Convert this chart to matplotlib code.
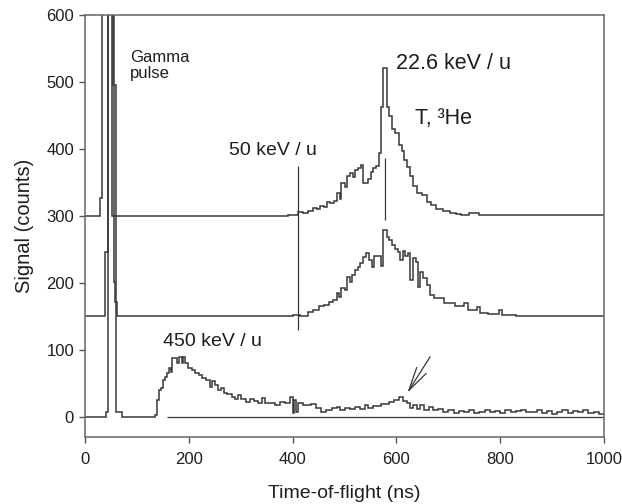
import numpy as np
import matplotlib
matplotlib.use("Agg")
from matplotlib import pyplot as plt

plt.rcParams['font.family'] = ['Liberation Sans', 'DejaVu Sans']

# trace offsets (counts)
offsets = [300, 150, 0]

# top trace: 22.6 keV/u  (step edges in ns, counts above its offset)
top_edges = [0, 29, 33, 51, 390, 400, 410, 420, 430, 440, 447, 453, 460, 466, 472,
             479, 485, 491, 494, 500, 505, 511, 516, 520, 526, 532, 536, 545, 550,
             555, 560, 566, 571, 575, 581, 586, 592, 597, 604, 610, 615, 620, 626,
             632, 640, 650, 658, 666, 676, 690, 703, 715, 725, 740, 760, 790, 800,
             850, 860, 920, 930, 1000]
top_counts = [0, 27, 900, 0, 1, 2, 6, 5, 8, 12, 10, 15, 13, 21, 20,
              22, 34, 25, 49, 44, 59, 64, 58, 69, 72, 76, 49, 55, 66,
              72, 74, 94, 163, 221, 163, 149, 130, 124, 106, 97, 84, 73, 60,
              45, 35, 31, 21, 17, 10, 7, 4, 3, 2, 4, 1, 2, 1,
              2, 1, 2, 1]

# middle trace: 50 keV/u
mid_edges = [0, 38, 43, 55, 58, 62, 390, 400, 415, 430, 440, 450, 460, 470, 478,
             485, 490, 494, 500, 505, 510, 515, 520, 526, 530, 536, 542, 548, 552,
             557, 565, 570, 575, 582, 586, 591, 597, 603, 607, 612, 617, 622, 626,
             632, 637, 641, 646, 652, 658, 664, 672, 692, 712, 730, 738, 755, 762,
             776, 798, 804, 830, 1000]
mid_counts = [0, 96, 900, 52, 22, 0, 1, 2, 1, 6, 9, 15, 17, 22,
              25, 35, 29, 43, 40, 59, 52, 62, 69, 74, 80, 89, 95, 84,
              74, 90, 90, 76, 129, 119, 114, 106, 100, 96, 84, 98, 90, 95,
              54, 88, 82, 44, 66, 58, 47, 32, 27, 20, 16, 20, 9, 14,
              5, 4, 10, 2, 1]

# bottom trace: 450 keV/u
bot_edges = [0, 40, 44, 54, 60, 70, 134, 138, 142, 146, 150, 154, 157, 162, 165,
             168, 177, 181, 186, 189, 193, 199, 205, 211, 220, 226, 233, 240, 245,
             250, 256, 262, 268, 274, 282, 288, 294, 300, 310, 318, 326, 334, 340,
             346, 355, 365, 375, 385, 395, 400, 403, 406, 410, 420, 435, 445, 455,
             465, 475, 485, 492, 500, 510, 520, 530, 540, 545, 555, 570, 585, 595,
             605, 612, 620, 626, 632, 640, 646, 654, 662, 670, 680, 690, 700, 710,
             720, 730, 740, 750, 760, 770, 780, 790, 800, 810, 820, 830, 840, 850,
             860, 870, 880, 890, 900, 910, 920, 930, 940, 950, 960, 970, 980, 990,
             1000]
bot_counts = [0, 8, 1000, 496, 8, 0, 3, 25, 40, 43, 55, 60, 65, 73,
              67, 88, 80, 90, 80, 89, 80, 73, 70, 65, 62, 58, 55, 45,
              53, 47, 40, 43, 35, 34, 30, 27, 33, 27, 22, 27, 24, 20,
              28, 21, 20, 18, 22, 20, 30, 6, 25, 8, 20, 17, 19, 14,
              8, 10, 13, 15, 11, 14, 12, 15, 12, 18, 14, 16, 19, 22,
              25, 30, 24, 20, 14, 18, 12, 17, 11, 15, 10, 12, 7, 10,
              6, 9, 7, 10, 6, 8, 11, 7, 9, 6, 10, 7, 9, 11,
              7, 8, 10, 6, 9, 5, 8, 11, 6, 9, 7, 10, 6, 8,
              5]

# marker lines (ns, count range)
marker_50_x, marker_50_y = 411, (130, 375)
marker_22_x, marker_22_y = 578, (294, 386)
ref_line_x, ref_line_y = (157, 1000), 0

line_col = '#383838'

fig = plt.figure(figsize=(6.22, 5.04), dpi=100)
ax = fig.add_axes([0.137, 0.133, 0.834, 0.837])

traces = [(top_edges, top_counts), (mid_edges, mid_counts), (bot_edges, bot_counts)]
for (edges, counts), off in zip(traces, offsets):
    ax.stairs(np.array(counts) + off, edges, baseline=None, color=line_col, lw=1.1)

ax.vlines(marker_50_x, *marker_50_y, color=line_col, lw=0.9)
ax.vlines(marker_22_x, *marker_22_y, color=line_col, lw=0.9)
ax.hlines(ref_line_y, *ref_line_x, color=line_col, lw=0.9)

ax.annotate('', xy=(621, 36), xytext=(665, 90),
            arrowprops=dict(arrowstyle='->,head_length=1.7,head_width=0.4',
                            color=line_col, lw=0.9, shrinkA=0, shrinkB=0))

txt = '#1e1e1e'
ax.text(86, 548, 'Gamma\npulse', fontsize=12, va='top', ha='left', color=txt, linespacing=1.05)
ax.text(600, 528, '22.6 keV / u', fontsize=15.5, va='center', ha='left', color=txt)
ax.text(636, 446, 'T, ³He', fontsize=15.5, va='center', ha='left', color=txt)
ax.text(277, 398, '50 keV / u', fontsize=14, va='center', ha='left', color=txt)
ax.text(149, 112, '450 keV / u', fontsize=14, va='center', ha='left', color=txt)

ax.set_xlim(0, 1000)
ax.set_ylim(-30, 600)
ax.set_xticks(np.arange(0, 1001, 200))
ax.set_yticks(np.arange(0, 601, 100))
ax.tick_params(axis='both', direction='out', length=4.5, width=1.0, colors='#555555',
               labelcolor=txt, labelsize=12)
ax.tick_params(axis='x', pad=6.5)
ax.tick_params(axis='y', pad=3.5)
for s in ax.spines.values():
    s.set_color('#666666')
    s.set_linewidth(1.1)

ax.set_xlabel('Time-of-flight (ns)', fontsize=14, color=txt, labelpad=13)
ax.set_ylabel('Signal (counts)', fontsize=14.5, color=txt, labelpad=9)

fig.savefig('out.png', dpi=100)
